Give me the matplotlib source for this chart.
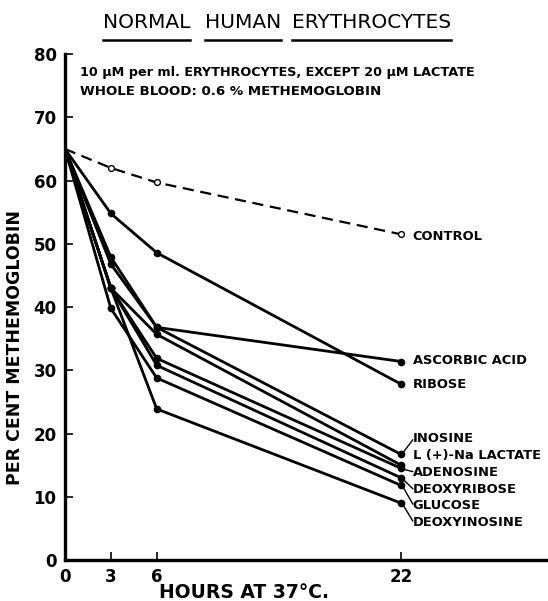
import matplotlib
matplotlib.use("Agg")
import matplotlib.pyplot as plt
from matplotlib.lines import Line2D

plt.rcParams.update({
    "font.family": "DejaVu Sans",
    "font.weight": "bold",
    "axes.labelweight": "bold",
})

hours = [0, 3, 6, 22]
control = [65, 62, 59.7, 51.5]
series_names = ["ASCORBIC ACID", "RIBOSE", "INOSINE", "L (+)-Na LACTATE",
                "ADENOSINE", "DEOXYRIBOSE", "GLUCOSE", "DEOXYINOSINE"]
series_values = [
    [65, 47.9, 36.8, 31.4],
    [65, 54.8, 48.6, 27.8],
    [65, 46.8, 36.8, 16.7],
    [65, 43.0, 35.7, 15.0],
    [65, 43.0, 31.9, 14.5],
    [65, 43.0, 30.8, 13.0],
    [65, 39.8, 28.8, 11.8],
    [65, 43.0, 23.9, 9.0],
]
# label heights (%) at the right end of the curves
label_y = [31.6, 27.8, 19.3, 16.6, 13.9, 11.2, 8.7, 6.0]
y_ticks = [0, 10, 20, 30, 40, 50, 60, 70, 80]
x_ticks = [0, 3, 6, 22]

fig = plt.figure(figsize=(5.48, 6.01), dpi=100)
ax = fig.add_axes([0.1186, 0.068, 0.8814, 0.842])
ax.set_xlim(0, 31.6)
ax.set_ylim(0, 80)

# control: dashed with open circles
ax.plot(hours, control, color="black", lw=1.6, dashes=(5, 3))
ax.plot(hours[1:], control[1:], "o", ms=4.2, mfc="white", mec="black", mew=1.0)

for vals in series_values:
    ax.plot(hours, vals, "-", color="black", lw=2.0, solid_capstyle="butt")
    ax.plot(hours[1:], vals[1:], "o", ms=4.5, color="black")

# labels
lx = 22.75
lfs = 9.4
ax.text(lx, 51.2, "CONTROL", fontsize=lfs, va="center", ha="left")
for name, ly in zip(series_names, label_y):
    ax.text(lx, ly, name, fontsize=lfs, va="center", ha="left")

# leader lines
ax.plot([22.15, 22.75], [17.1, 19.0], color="black", lw=1.0)
ax.plot([22.25, 22.75], [14.3, 14.0], color="black", lw=1.0)
ax.plot([22.15, 22.75], [12.7, 11.3], color="black", lw=1.0)
ax.plot([22.15, 22.75], [11.4, 8.9], color="black", lw=1.0)
ax.plot([22.15, 22.75], [8.6, 6.2], color="black", lw=1.0)

# axes styling
for s in ["top", "right"]:
    ax.spines[s].set_visible(False)
for s in ["left", "bottom"]:
    ax.spines[s].set_linewidth(2.4)
ax.set_yticks(y_ticks)
ax.set_xticks(x_ticks)
ax.set_yticklabels([str(v) for v in y_ticks], fontsize=12)
ax.set_xticklabels([str(v) for v in x_ticks], fontsize=12)
ax.tick_params(axis="both", direction="in", length=6, width=1.2, pad=6)
ax.set_ylabel("PER CENT METHEMOGLOBIN", fontsize=12.5, fontweight="bold")
ax.yaxis.set_label_coords(-0.085, 0.42)
ax.set_xlabel("HOURS AT 37°C.", fontsize=13.5, fontweight="bold")
ax.xaxis.set_label_coords(0.37, -0.045)

# annotation
fig.text(0.146, 0.880, "10 μM per ml. ERYTHROCYTES, EXCEPT 20 μM LACTATE",
         fontsize=9.2, ha="left", va="center")
fig.text(0.146, 0.848, "WHOLE BLOOD: 0.6 % METHEMOGLOBIN",
         fontsize=9.6, ha="left", va="center")

# underlined title words
words = [("NORMAL", 0.188), ("HUMAN", 0.374), ("ERYTHROCYTES", 0.533)]
texts = [fig.text(x, 0.963, w, fontsize=14.5, fontweight="normal", ha="left", va="center")
         for w, x in words]
fig.canvas.draw()
r = fig.canvas.get_renderer()
inv = fig.transFigure.inverted()
for t in texts:
    bb = t.get_window_extent(r)
    (x0, y0), (x1, y1) = inv.transform([(bb.x0, bb.y0), (bb.x1, bb.y1)])
    fig.add_artist(Line2D([x0, x1], [0.933, 0.933], color="black", lw=1.8,
                          transform=fig.transFigure))

fig.savefig("out.png", dpi=100)
